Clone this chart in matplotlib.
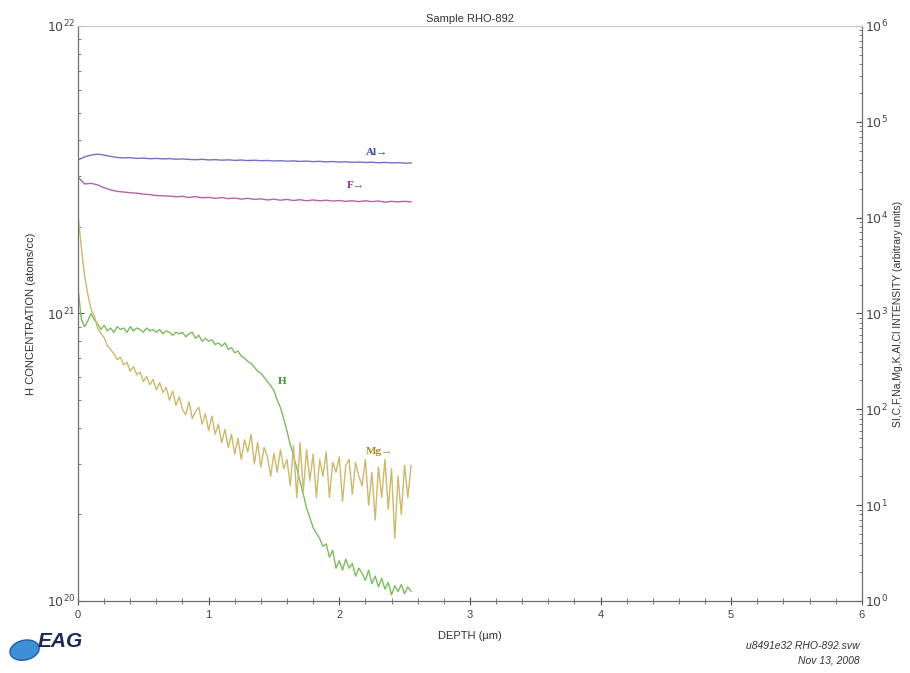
import numpy as np
import matplotlib
matplotlib.use("Agg")
import matplotlib.pyplot as plt
from matplotlib.ticker import LogLocator, FuncFormatter, MultipleLocator, NullFormatter
from matplotlib.patches import Ellipse

plt.rcParams['font.family'] = ['Liberation Sans', 'DejaVu Sans']

# depth grids (um)
depth_fine = np.linspace(0, 2.55, 103)
depth_smooth = np.linspace(0, 2.55, 52)

# H concentration, units of 1e20 atoms/cc
h_conc = [12.3, 9.6, 9.0, 9.4, 10.0, 9.5, 9.2, 8.8, 9.1, 8.7,
          8.9, 8.6, 9.0, 8.8, 8.9, 8.6, 9.0, 8.7, 8.9, 8.8,
          8.6, 8.9, 8.7, 8.8, 8.6, 8.8, 8.5, 8.7, 8.6, 8.4,
          8.6, 8.5, 8.6, 8.3, 8.5, 8.6, 8.2, 8.4, 8.0, 8.2,
          8.0, 8.1, 7.8, 7.9, 7.7, 7.9, 7.5, 7.6, 7.3, 7.4,
          7.1, 7.0, 6.8, 6.7, 6.5, 6.3, 6.2, 6.0, 5.8, 5.6,
          5.4, 5.0, 4.7, 4.3, 3.9, 3.5, 3.2, 2.9, 2.6, 2.35,
          2.1, 1.95, 1.8, 1.72, 1.65, 1.55, 1.58, 1.42, 1.50, 1.30,
          1.38, 1.28, 1.40, 1.30, 1.35, 1.22, 1.30, 1.25, 1.18, 1.28,
          1.15, 1.22, 1.12, 1.20, 1.10, 1.16, 1.05, 1.13, 1.08, 1.14,
          1.06, 1.12, 1.08]

# Mg intensity (counts)
mg_int = [10700, 5000, 2500, 1600, 1100, 950, 700, 620, 560, 460,
          420, 380, 330, 350, 290, 310, 250, 280, 230, 245,
          195, 220, 180, 205, 160, 190, 150, 170, 125, 155,
          110, 135, 100, 88, 120, 80, 95, 105, 70, 90,
          60, 85, 55, 70, 45, 62, 40, 55, 34, 50,
          30, 48, 36, 55, 27, 45, 25, 40, 32, 20,
          35, 22, 38, 24, 30, 16, 42, 12, 45, 14,
          38, 18, 34, 12, 30, 20, 36, 12, 28, 22,
          32, 11, 26, 30, 13, 28, 20, 16, 30, 10,
          22, 7, 25, 12, 30, 9, 24, 4.5, 20, 8,
          26, 12, 26]

# Al and F intensity, units of 1000 counts
al_int = [40, 43, 45, 46, 45, 43.5, 42.5, 42, 42.3, 41.5,
          41.8, 41.2, 41.5, 41, 41.3, 40.7, 41, 40.5, 40.2, 40.6,
          40.0, 40.3, 39.8, 40.1, 39.6, 39.9, 39.4, 39.7, 39.3, 39.5,
          39.0, 39.3, 38.8, 39.1, 38.6, 38.9, 38.4, 38.7, 38.2, 38.5,
          38.0, 38.3, 37.8, 38.1, 37.6, 37.9, 37.4, 37.7, 37.2, 37.5,
          37.0, 37.2]
f_int = [26.5, 22.5, 22.8, 22.0, 20.5, 19.5, 18.8, 18.5, 18.2, 18.0,
         17.6, 17.4, 17.0, 16.9, 16.8, 16.5, 16.7, 16.2, 16.6, 16.1,
         16.3, 15.9, 16.2, 15.8, 16.0, 15.6, 15.9, 15.5, 15.7, 15.3,
         15.6, 15.2, 15.5, 15.1, 15.4, 15.0, 15.3, 15.0, 15.2, 14.9,
         15.1, 14.8, 15.0, 14.7, 15.0, 14.7, 14.9, 14.5, 14.8, 14.6,
         14.8, 14.6]

# axis decades
conc_decades = [1e20, 1e21, 1e22]
int_decades = [1, 10, 100, 1e3, 1e4, 1e5, 1e6]


def pow10(v, pos):
    return '$10^{%d}$' % int(round(np.log10(v)))


fig = plt.figure(figsize=(9.1, 6.73), dpi=100)
ax = fig.add_axes([0.0857, 0.107, 0.8613, 0.8544])
ax2 = ax.twinx()

ax.plot(depth_fine, np.array(h_conc) * 1e20, color='#7dbb5e', lw=1.0)
ax2.plot(depth_fine, mg_int, color='#cdb86c', lw=1.0)
ax2.plot(depth_smooth, np.array(al_int) * 1000, color='#7170c8', lw=1.0)
ax2.plot(depth_smooth, np.array(f_int) * 1000, color='#b364a6', lw=1.0)

ax.set_yscale('log')
ax2.set_yscale('log')
ax.set_yticks(conc_decades)
ax2.set_yticks(int_decades)
ax.set_ylim(1e20, 1e22)
ax2.set_ylim(1, 1e6)
ax.set_xlim(0, 6)

for a in (ax, ax2):
    a.yaxis.set_minor_locator(LogLocator(base=10, subs=np.arange(2, 10)))
    a.yaxis.set_minor_formatter(NullFormatter())
    a.yaxis.set_major_formatter(FuncFormatter(pow10))
    a.tick_params(axis='y', which='major', length=4, width=0.8, colors='#555555',
                  labelsize=9, labelcolor='#444444', direction='in', pad=2)
    a.tick_params(axis='y', which='minor', length=2.5, width=0.6, colors='#666666',
                  direction='in')

ax.xaxis.set_major_locator(MultipleLocator(1))
ax.xaxis.set_minor_locator(MultipleLocator(0.2))
ax.tick_params(axis='x', which='major', length=6, width=0.8, direction='inout',
               colors='#555555', labelsize=8, labelcolor='#444444')
ax.tick_params(axis='x', which='minor', length=4, width=0.6, direction='inout',
               colors='#666666')

for a in (ax, ax2):
    a.spines['top'].set_color('#d2c6c6')
    a.spines['left'].set_color('#6d6d6d')
    a.spines['right'].set_color('#6d6d6d')
    a.spines['bottom'].set_color('#6d6d6d')

ax.set_title('Sample RHO-892', fontsize=8, color='#333333', pad=3)
ax.set_xlabel('DEPTH (\u00b5m)', fontsize=8, color='#333333', labelpad=8)
ax.set_ylabel('H CONCENTRATION (atoms/cc)', fontsize=8, color='#333333', labelpad=8)
ax2.set_ylabel('SI,C,F,Na,Mg,K,Al,Cl INTENSITY (arbitrary units)', fontsize=7.5,
               color='#333333', labelpad=4)

serif = ['Liberation Serif', 'DejaVu Serif']
ax2.text(2.29, 48000, 'Al\u2192', color='#3a48a8', fontsize=8, fontweight='bold',
         family=serif, ha='center', va='center')
ax2.text(2.13, 21500, 'F\u2192', color='#8e2a86', fontsize=8, fontweight='bold',
         family=serif, ha='center', va='center')
ax.text(1.56, 5.8e20, 'H', color='#3f8f35', fontsize=8, fontweight='bold',
        family=serif, ha='center', va='center')
ax2.text(2.31, 36, 'Mg\u2192', color='#a88e28', fontsize=8, fontweight='bold',
         family=serif, ha='center', va='center')

fig.text(0.945, 0.040, 'u8491e32 RHO-892.svw', fontsize=7.5, style='italic',
         color='#333333', ha='right', va='center')
fig.text(0.945, 0.018, 'Nov 13, 2008', fontsize=7.5, style='italic',
         color='#333333', ha='right', va='center')

# EAG logo
fig.patches.append(Ellipse((0.027, 0.034), 0.034, 0.028, angle=35, transform=fig.transFigure,
                           facecolor='#3f8fd6', edgecolor='#1f5fa8', lw=1.0))
fig.text(0.041, 0.047, 'EAG', fontsize=15, fontweight='bold', style='italic',
         color='#1c2a5a', ha='left', va='center')

fig.savefig('out.png', dpi=100)
